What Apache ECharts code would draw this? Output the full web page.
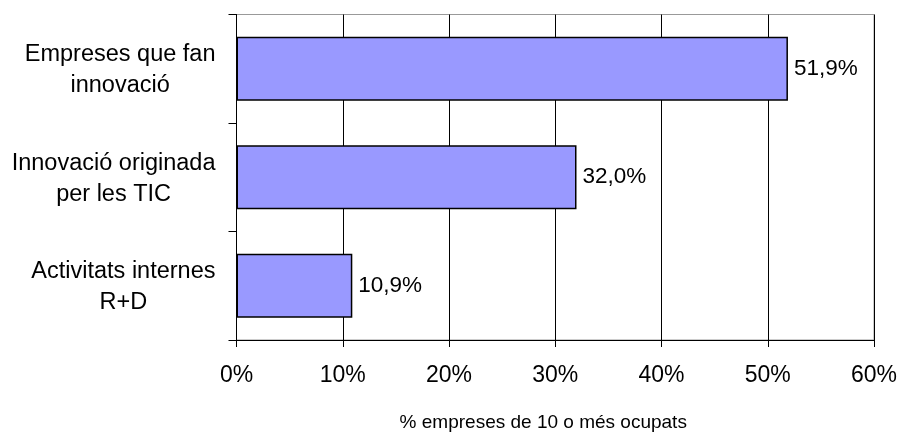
<!DOCTYPE html>
<html>
<head>
<meta charset="utf-8">
<script src="https://cdn.jsdelivr.net/npm/echarts@6/dist/echarts.min.js"></script>
<style>html,body{margin:0;padding:0;background:#fff}#c{width:901px;height:432px}</style>
</head>
<body>
<div id="c"></div>
<script>
var categories = ['Empreses que fan\ninnovació', 'Innovació originada\nper les TIC', 'Activitats internes\nR+D'];
var values = [51.9, 32.0, 10.9];
var xTicks = [0, 10, 20, 30, 40, 50, 60];
var axisName = '% empreses de 10 o més ocupats';

var FONT = '"Liberation Sans", Arial, sans-serif';
var chart = echarts.init(document.getElementById('c'), null, {renderer: 'canvas'});
chart.setOption({
  animation: false,
  backgroundColor: '#fff',
  grid: {left: 236.5, right: 27, top: 14.5, bottom: 92, containLabel: false, outerBoundsMode: 'none',
    show: true, borderColor: '#999', borderWidth: 1, backgroundColor: 'transparent'},
  xAxis: {
    type: 'value', min: xTicks[0], max: xTicks[xTicks.length - 1], interval: 10,
    name: axisName, nameLocation: 'middle', nameGap: 73,
    nameTextStyle: {fontFamily: FONT, fontSize: 19, color: '#000', padding: [0, 24, 0, 0]},
    axisLine: {show: true, lineStyle: {color: '#000', width: 1}},
    axisTick: {show: true, length: 7, lineStyle: {color: '#000'}},
    axisLabel: {formatter: '{value}%', fontFamily: FONT, fontSize: 23, color: '#000', margin: 24},
    splitLine: {show: true, lineStyle: {color: '#000', width: 1}}
  },
  yAxis: {
    type: 'category', data: categories, inverse: true,
    axisLine: {show: true, lineStyle: {color: '#000', width: 1}},
    axisTick: {show: true, length: 8, lineStyle: {color: '#000'}},
    axisLabel: {
      align: 'right', margin: 21,
      formatter: function (v) { return v.split('\n').map(function (l) { return '{c|' + l + '}'; }).join('\n'); },
      rich: {c: {align: 'center', fontFamily: FONT, fontSize: 23.5, color: '#000', lineHeight: 31, padding: [3, 0, 0, 0]}}
    },
    splitLine: {show: false}
  },
  series: [{
    type: 'bar', data: values, barWidth: '59%',
    itemStyle: {color: '#9999FF', borderColor: '#000', borderWidth: 1.5},
    label: {show: true, position: 'right', distance: 6, fontFamily: FONT, fontSize: 22.5, color: '#000',
      formatter: function (p) { return p.value.toFixed(1).replace('.', ',') + '%'; }}
  }]
});
</script>
</body>
</html>
